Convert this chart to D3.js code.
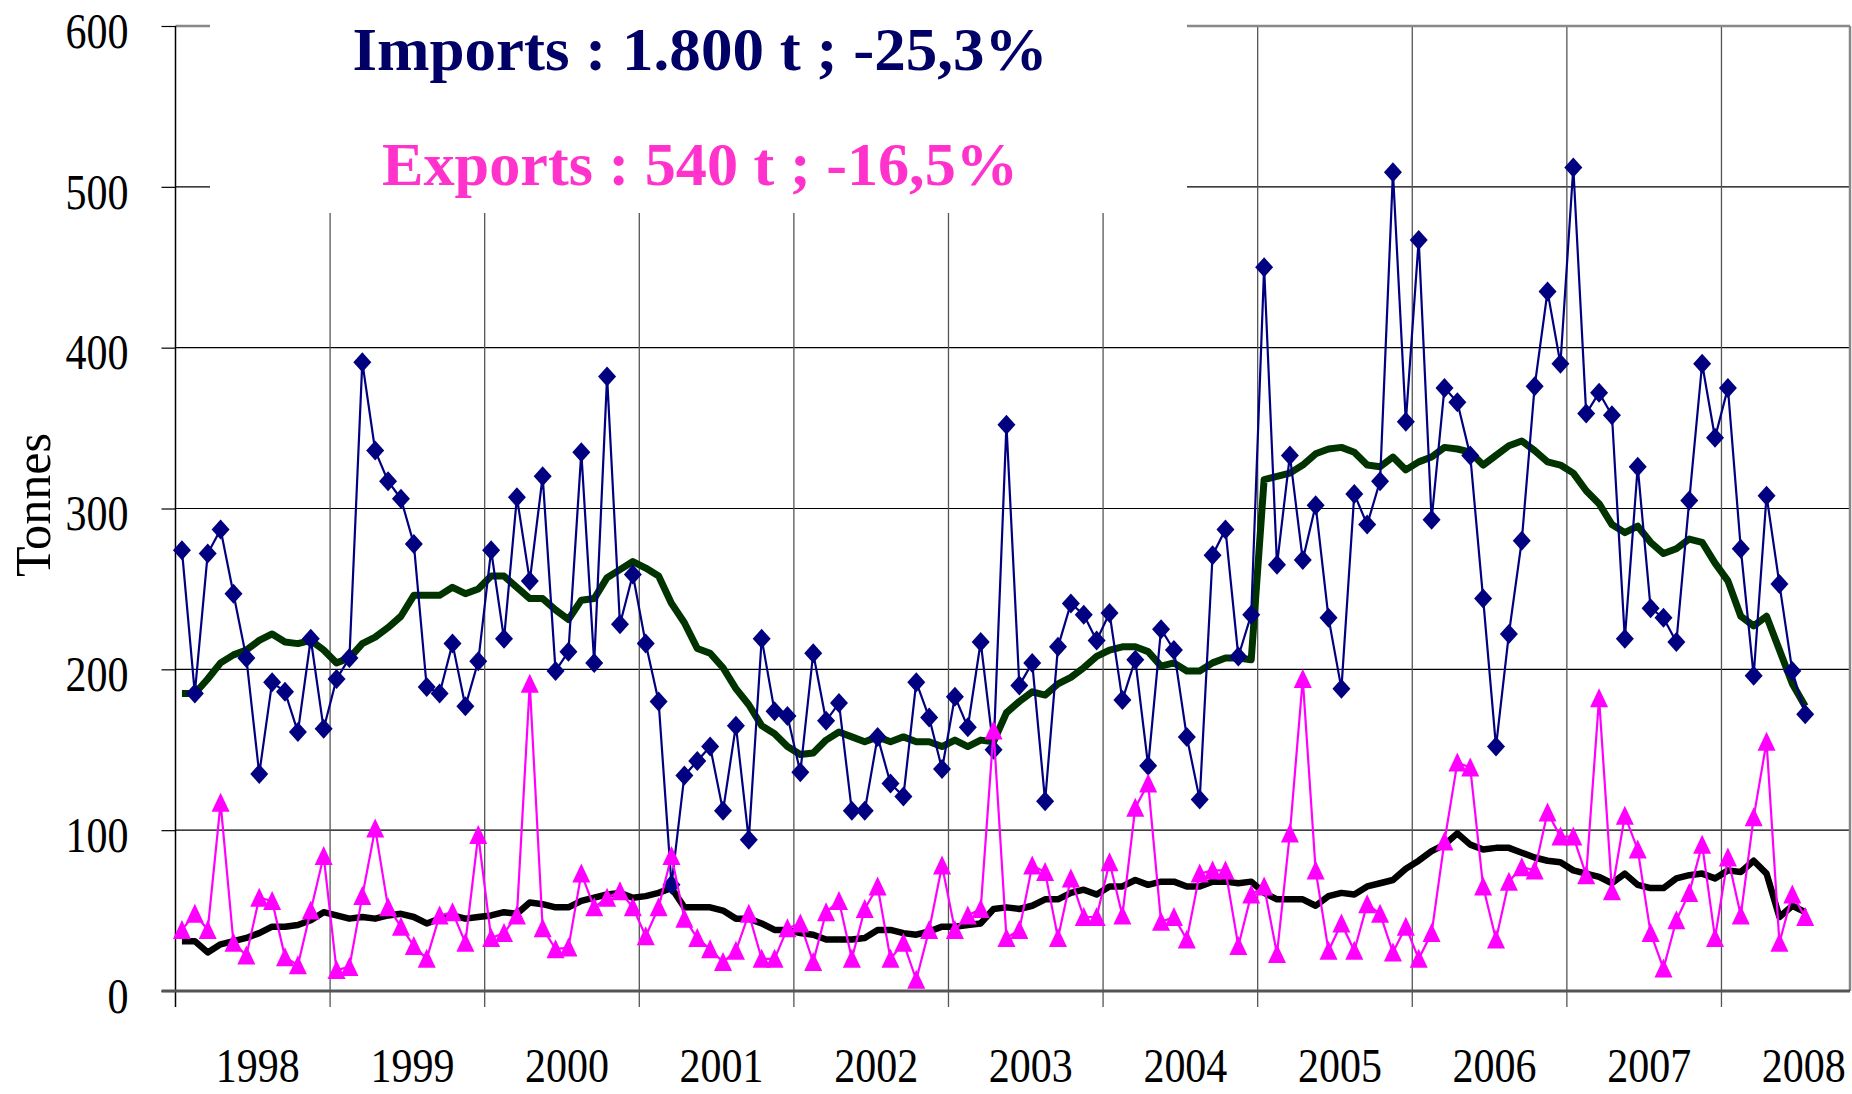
<!DOCTYPE html>
<html>
<head>
<meta charset="utf-8">
<script src="https://cdn.jsdelivr.net/npm/d3@7/dist/d3.min.js"></script>
<style>
	html, body { margin: 0; padding: 0; background: #fff; }
	svg { display: block; }
</style>
</head>
<body>
<svg id="chart"></svg>
<script>
// monthly values, Jan 1998 .. Jul 2008 (tonnes)
var years = ["1998", "1999", "2000", "2001", "2002", "2003", "2004", "2005", "2006", "2007", "2008"];
var yTicks = [0, 100, 200, 300, 400, 500, 600];

var importsMonthly = [
	274, 185, 272, 287, 247, 207, 135, 192, 186, 161, 219, 163,
	194, 207, 391, 336, 317, 306, 278, 189, 185, 216, 177, 205,
	274, 219, 307, 255, 320, 199, 211, 335, 204, 382, 228, 259,
	216, 180, 66, 134, 143, 152, 112, 165, 94, 219, 174, 171,
	136, 210, 168, 179, 112, 112, 158, 129, 121, 192, 170, 138,
	183, 164, 217, 150, 352, 190, 204, 118, 214, 241, 234, 218,
	235, 181, 206, 140, 225, 212, 158, 119, 271, 287, 208, 234,
	450, 265, 333, 268, 302, 232, 188, 309, 290, 317, 509, 354,
	467, 293, 375, 366, 333, 244, 152, 222, 280, 376, 435, 390,
	512, 359, 372, 358, 219, 326, 238, 232, 217, 305, 390, 344,
	375, 275, 196, 308, 253, 199, 172
];

var exportsMonthly = [
	38, 48, 38, 117, 30, 22, 58, 56, 21, 16, 50, 84,
	13, 15, 59, 101, 52, 40, 28, 20, 47, 49, 30, 97,
	33, 36, 47, 191, 39, 26, 27, 73, 52, 58, 62, 52,
	34, 52, 84, 45, 33, 26, 18, 25, 48, 20, 20, 39,
	42, 18, 49, 56, 20, 51, 65, 20, 30, 7, 38, 78,
	38, 47, 51, 162, 33, 38, 78, 74, 33, 70, 46, 46,
	80, 47, 114, 129, 43, 46, 32, 73, 75, 75, 28, 60,
	65, 23, 98, 194, 75, 25, 42, 25, 54, 48, 24, 40,
	20, 36, 93, 142, 139, 65, 32, 68, 77, 75, 111, 96,
	96, 72, 182, 62, 109, 88, 36, 14, 44, 61, 91, 33,
	83, 47, 108, 155, 30, 60, 46
];

var importsTrend = [
	185, 185, 194, 204, 209, 212, 218, 222, 217, 216, 218, 212,
	204, 207, 216, 220, 226, 233, 246, 246, 246, 251, 247, 250,
	258, 258, 251, 244, 244, 237, 231, 243, 244, 257, 262, 267,
	263, 258, 241, 229, 213, 210, 201, 188, 178, 165, 160, 152,
	147, 148, 156, 161, 158, 155, 158, 155, 158, 155, 155, 152,
	156, 152, 156, 155, 173, 180, 186, 184, 191, 195, 201, 208,
	212, 214, 214, 211, 202, 204, 199, 199, 204, 207, 207, 206,
	318, 320, 322, 327, 334, 337, 338, 335, 327, 326, 332, 324,
	329, 332, 338, 337, 335, 327, 333, 339, 342, 336, 329, 327,
	322, 311, 303, 290, 285, 289, 279, 272, 275, 281, 279, 266,
	255, 233, 227, 233, 212, 191, 177
];

var exportsTrend = [
	31, 31, 24, 29, 31, 33, 36, 40, 40, 41, 44, 49,
	47, 45, 46, 45, 47, 48, 46, 42, 45, 47, 45, 46,
	47, 49, 48, 55, 54, 52, 52, 56, 58, 60, 61, 58,
	59, 61, 64, 52, 52, 52, 50, 45, 45, 42, 38, 38,
	36, 35, 32, 32, 32, 33, 38, 38, 36, 35, 37, 40,
	40, 41, 42, 51, 52, 51, 53, 57, 57, 61, 63, 60,
	65, 65, 69, 66, 68, 68, 65, 65, 68, 68, 67, 68,
	61, 57, 57, 57, 53, 59, 61, 60, 65, 67, 69, 76,
	81, 87, 91, 98, 91, 88, 89, 89, 86, 83, 81, 80,
	75, 73, 71, 67, 73, 66, 64, 64, 70, 72, 73, 70,
	75, 74, 81, 73, 46, 53, 49
];

var titleImports = "Imports : 1.800 t ; -25,3%";
var titleExports = "Exports : 540 t ; -16,5%";

(function(){
	'use strict';

	var W = 1852, H = 1094;
	var left = 175.5, right = 1850, top = 26, bottom = 991;
	var monthW = 12.883;
	var serif = "'Liberation Serif', 'Times New Roman', serif";

	var svg = d3.select("#chart").attr("width", W).attr("height", H);
	svg.append("rect").attr("width", W).attr("height", H).attr("fill", "#fff");

	var x = d3.scaleLinear().domain([0, 132]).range([left, left + 132 * monthW]);
	var y = d3.scaleLinear().domain([0, 600]).range([bottom, top]);

	// horizontal gridlines
	svg.append("g")
		.selectAll("line")
		.data(yTicks.filter(function(d){ return d > 0 && d < 600; }))
		.enter().append("line")
		.attr("x1", left).attr("x2", right)
		.attr("y1", function(d){ return y(d); })
		.attr("y2", function(d){ return y(d); })
		.attr("stroke", "#000").attr("stroke-width", 1.2);

	// vertical year gridlines
	var yearStarts = d3.range(1, years.length).map(function(k){ return k * 12; });
	svg.append("g")
		.selectAll("line")
		.data(yearStarts)
		.enter().append("line")
		.attr("x1", function(d){ return x(d); })
		.attr("x2", function(d){ return x(d); })
		.attr("y1", top).attr("y2", bottom + 16)
		.attr("stroke", "#555").attr("stroke-width", 1.3);

	// plot border (top & right)
	svg.append("line").attr("x1", left).attr("x2", right).attr("y1", top).attr("y2", top)
		.attr("stroke", "#888").attr("stroke-width", 2.5);
	svg.append("line").attr("x1", right).attr("x2", right).attr("y1", top).attr("y2", bottom)
		.attr("stroke", "#888").attr("stroke-width", 2.5);

	// white title box hides the grid behind the headline
	svg.append("rect").attr("x", 210).attr("y", 0).attr("width", 977).attr("height", 213).attr("fill", "#fff");

	// y axis
	var yAxis = svg.append("g")
		.attr("transform", "translate(" + left + ",0)")
		.call(d3.axisLeft(y).tickValues(yTicks).tickSize(14).tickPadding(33).tickFormat(d3.format("d")));
	yAxis.select(".domain").remove();
	yAxis.selectAll(".tick line").attr("stroke", "#000").attr("stroke-width", 1.2);
	yAxis.selectAll(".tick text")
		.attr("fill", "#000")
		.style("font-family", serif)
		.style("font-size", "42px")
		.attr("dy", "0.42em")
		.attr("transform", "scale(1,1.2)");
	svg.append("line").attr("x1", left).attr("x2", left).attr("y1", top).attr("y2", bottom + 16)
		.attr("stroke", "#000").attr("stroke-width", 1.5);

	// zero line
	svg.append("line").attr("x1", left - 14).attr("x2", right).attr("y1", bottom).attr("y2", bottom)
		.attr("stroke", "#555").attr("stroke-width", 3);

	// year labels
	svg.append("g")
		.selectAll("text")
		.data(years)
		.enter().append("text")
		.attr("transform", function(d, k){ return "translate(" + (x(k * 12 + 6) + 5) + ",1082) scale(1,1.15)"; })
		.attr("text-anchor", "middle")
		.style("font-family", serif)
		.style("font-size", "42px")
		.attr("fill", "#000")
		.text(function(d){ return d; });

	// y title
	svg.append("text")
		.attr("transform", "translate(50,505) rotate(-90)")
		.attr("text-anchor", "middle")
		.style("font-family", serif)
		.style("font-size", "50px")
		.attr("textLength", 144).attr("lengthAdjust", "spacingAndGlyphs")
		.attr("fill", "#000")
		.text("Tonnes");

	// headline
	svg.append("text")
		.attr("x", 700).attr("y", 70)
		.attr("text-anchor", "middle")
		.style("font-family", serif).style("font-weight", "bold").style("font-size", "62px")
		.attr("textLength", 695).attr("lengthAdjust", "spacingAndGlyphs")
		.attr("fill", "#000066")
		.text(titleImports);
	svg.append("text")
		.attr("x", 700).attr("y", 185)
		.attr("text-anchor", "middle")
		.style("font-family", serif).style("font-weight", "bold").style("font-size", "62px")
		.attr("textLength", 636).attr("lengthAdjust", "spacingAndGlyphs")
		.attr("fill", "#ff33cc")
		.text(titleExports);

	var line = d3.line()
		.x(function(d, i){ return x(i + 0.5); })
		.y(function(d){ return y(d); });

	// trend lines
	svg.append("path").datum(importsTrend).attr("d", line)
		.attr("fill", "none").attr("stroke", "#003300").attr("stroke-width", 7)
		.attr("stroke-linejoin", "round");
	svg.append("path").datum(exportsTrend).attr("d", line)
		.attr("fill", "none").attr("stroke", "#000").attr("stroke-width", 6.5)
		.attr("stroke-linejoin", "round");

	// imports
	svg.append("path").datum(importsMonthly).attr("d", line)
		.attr("fill", "none").attr("stroke", "#000080").attr("stroke-width", 2.2);
	svg.append("g").selectAll("path")
		.data(importsMonthly)
		.enter().append("path")
		.attr("transform", function(d, i){ return "translate(" + x(i + 0.5) + "," + y(d) + ")"; })
		.attr("d", "M0,-10L9,0L0,10L-9,0Z")
		.attr("fill", "#000080");

	// exports
	svg.append("path").datum(exportsMonthly).attr("d", line)
		.attr("fill", "none").attr("stroke", "#ff00ff").attr("stroke-width", 2.2);
	svg.append("g").selectAll("path")
		.data(exportsMonthly)
		.enter().append("path")
		.attr("transform", function(d, i){ return "translate(" + x(i + 0.5) + "," + y(d) + ")"; })
		.attr("d", "M0,-10L9,9L-9,9Z")
		.attr("fill", "#ff00ff");
})();
</script>
</body>
</html>
